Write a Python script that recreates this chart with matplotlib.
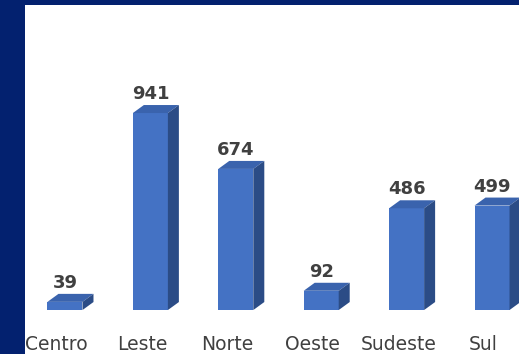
import matplotlib.pyplot as plt
from matplotlib.patches import Polygon

# Regional totals
regions = ['Centro', 'Leste', 'Norte', 'Oeste', 'Sudeste', 'Sul']
totals = [39, 941, 674, 92, 486, 499]

W, H = 519, 354
fig = plt.figure(figsize=(W / 100, H / 100), dpi=100)
fig.patch.set_facecolor('#03216f')

# white panel inset from the navy frame
ax = fig.add_axes([25 / W, 0, (W - 25) / W, (H - 5) / H])
ax.set_facecolor('white')
ax.set_xlim(-0.468, 5.316)
ax.set_ylim(-210, 1457)
for s in ax.spines.values():
    s.set_visible(False)
ax.set_xticks([])
ax.set_yticks([])

# pixel -> data conversions for the fake 3D depth
px_x = (5.316 + 0.468) / (W - 25)
px_y = (1457 + 210) / (H - 5)
dx, dy = 11 * px_x, 8 * px_y
bw = 0.41

front = '#4472c4'
top = '#3a63ad'
side = '#2b4c86'

for i, v in enumerate(totals):
    x0, x1 = i - bw / 2, i + bw / 2
    ax.add_patch(Polygon([(x0, 0), (x1, 0), (x1, v), (x0, v)],
                         closed=True, facecolor=front, edgecolor='none'))
    ax.add_patch(Polygon([(x0, v), (x1, v), (x1 + dx, v + dy), (x0 + dx, v + dy)],
                         closed=True, facecolor=top, edgecolor='none'))
    ax.add_patch(Polygon([(x1, 0), (x1 + dx, dy), (x1 + dx, v + dy), (x1, v)],
                         closed=True, facecolor=side, edgecolor='none'))
    ax.annotate(str(v), (i, v), xytext=(0, 10), textcoords='offset points',
                ha='center', va='baseline', fontsize=13, fontweight='bold',
                color='#404040')
    ax.annotate(regions[i], (i, 0), xytext=(-6, -25), textcoords='offset points',
                ha='center', va='center', fontsize=13.5, color='#404040')

fig.savefig('out.png', dpi=100, facecolor=fig.get_facecolor())
